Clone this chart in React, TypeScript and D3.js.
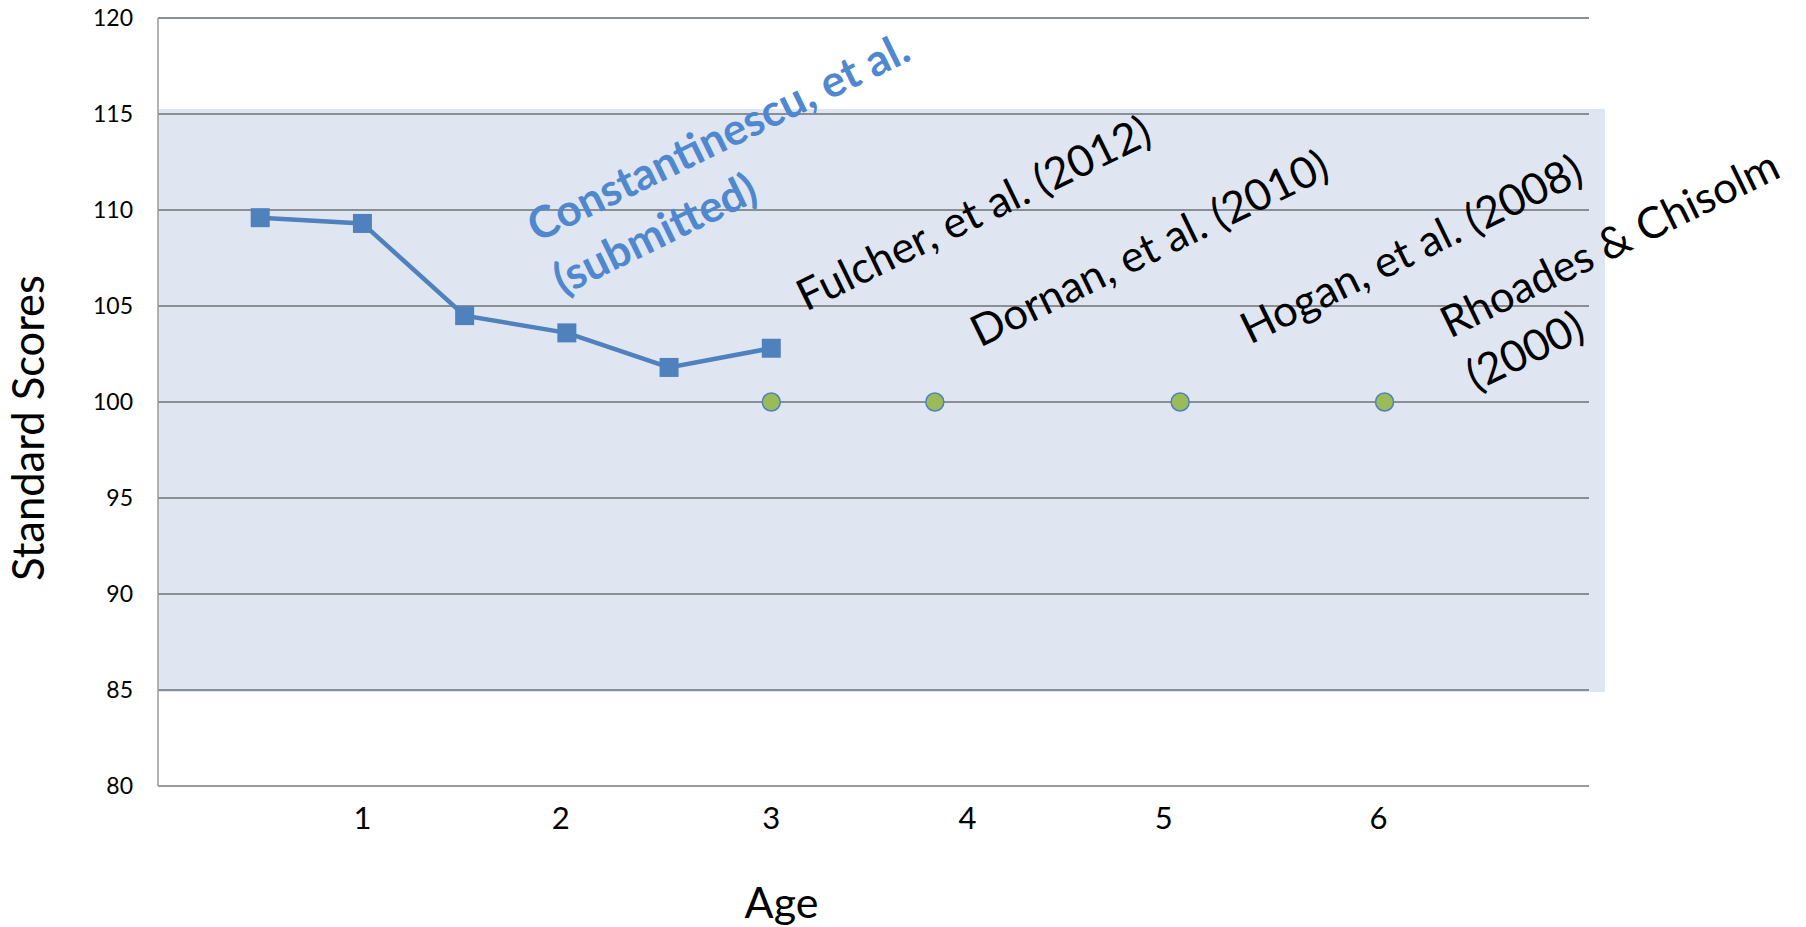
import React from "react";
import { useEffect, useRef } from "react";
import * as d3 from "d3";

// Constantinescu series (age in years, standard score)
const ages = [0.5, 1, 1.5, 2, 2.5, 3];
const scores = [109.6, 109.3, 104.5, 103.6, 101.8, 102.8];

// other studies, normal-hearing reference points
const normAges = [3, 3.8, 5, 6];
const normScores = [100, 100, 100, 100];

const studyNames = [
  ["Constantinescu, et al.", "(submitted)"],
  ["Fulcher, et al. (2012)"],
  ["Dornan, et al. (2010)"],
  ["Hogan, et al. (2008)"],
  ["Rhoades & Chisolm", "(2000)"],
];

const yTicks = [80, 85, 90, 95, 100, 105, 110, 115, 120];
const xTickLabels = ["1", "2", "3", "4", "5", "6"];
const xTickAt = [1, 1.97, 3, 3.96, 4.92, 5.97];
const normBand = [85, 115];

const W = 1806;
const H = 927;

const App = () => {
  const ref = useRef<SVGSVGElement>(null);

  useEffect(() => {
    drawChart();
  }, []);

  function drawChart() {
    const svg = d3.select(ref.current);
    svg.selectAll("*").remove();

    const margin = { top: 18, right: 217, bottom: 141, left: 158 };
    const font = "Lato, 'Open Sans', sans-serif";

    const xScale = d3.scaleLinear().domain([0, 7]).range([margin.left, W - margin.right]);
    const yScale = d3.scaleLinear().domain([80, 120]).range([H - margin.bottom, margin.top]);

    // shaded +-1 SD band
    svg
      .append("rect")
      .attr("x", xScale(0))
      .attr("y", yScale(normBand[1]) - 5)
      .attr("width", xScale(7) - xScale(0) + 16)
      .attr("height", yScale(normBand[0]) - yScale(normBand[1]) + 7)
      .attr("fill", "#dfe6f1");

    // gridlines
    svg
      .append("g")
      .selectAll("line")
      .data(yTicks.slice(1))
      .join("line")
      .attr("x1", xScale(0))
      .attr("x2", xScale(7))
      .attr("y1", (d) => yScale(d))
      .attr("y2", (d) => yScale(d))
      .attr("stroke", "#8a8e95")
      .attr("stroke-width", 2);

    // axes lines
    svg
      .append("line")
      .attr("x1", xScale(0))
      .attr("x2", xScale(0))
      .attr("y1", yScale(120))
      .attr("y2", yScale(80))
      .attr("stroke", "#9a9a9a")
      .attr("stroke-width", 1.5);
    svg
      .append("line")
      .attr("x1", xScale(0))
      .attr("x2", xScale(7))
      .attr("y1", yScale(80))
      .attr("y2", yScale(80))
      .attr("stroke", "#9a9a9a")
      .attr("stroke-width", 2);

    // y tick labels
    svg
      .append("g")
      .selectAll("text")
      .data(yTicks)
      .join("text")
      .attr("x", xScale(0) - 25)
      .attr("y", (d) => yScale(d))
      .attr("dy", "0.36em")
      .attr("text-anchor", "end")
      .attr("font-family", font)
      .attr("font-size", 23)
      .attr("fill", "#000")
      .text((d) => d);

    // x tick labels
    svg
      .append("g")
      .selectAll("text")
      .data(xTickLabels)
      .join("text")
      .attr("x", (d, i) => xScale(xTickAt[i]))
      .attr("y", yScale(80) + 32)
      .attr("dy", "0.36em")
      .attr("text-anchor", "middle")
      .attr("font-family", font)
      .attr("font-size", 31)
      .attr("fill", "#000")
      .text((d) => d);

    // axis titles
    svg
      .append("text")
      .attr("x", xScale(3.05))
      .attr("y", 918)
      .attr("text-anchor", "middle")
      .attr("font-family", font)
      .attr("font-size", 43)
      .attr("fill", "#000")
      .text("Age");
    svg
      .append("text")
      .attr("transform", `translate(44,${(yScale(80) + yScale(120)) / 2 + 26}) rotate(-90)`)
      .attr("text-anchor", "middle")
      .attr("font-family", font)
      .attr("font-size", 43.5)
      .attr("fill", "#000")
      .text("Standard Scores");

    // Constantinescu line + square markers
    const pts = ages.map((a, i) => [a, scores[i]]);
    const line = d3
      .line()
      .x((d: any) => xScale(d[0]))
      .y((d: any) => yScale(d[1]));
    svg
      .append("path")
      .datum(pts)
      .attr("fill", "none")
      .attr("stroke", "#4f81bd")
      .attr("stroke-width", 4.5)
      .attr("d", line as any);
    const sq = 19;
    svg
      .append("g")
      .selectAll("rect")
      .data(pts)
      .join("rect")
      .attr("x", (d) => xScale(d[0]) - sq / 2)
      .attr("y", (d) => yScale(d[1]) - sq / 2)
      .attr("width", sq)
      .attr("height", sq)
      .attr("fill", "#4f81bd");

    // other studies
    svg
      .append("g")
      .selectAll("circle")
      .data(normAges)
      .join("circle")
      .attr("cx", (d) => xScale(d))
      .attr("cy", (d, i) => yScale(normScores[i]))
      .attr("r", 9)
      .attr("fill", "#9bbb59")
      .attr("stroke", "#4f81bd")
      .attr("stroke-width", 1.5);

    // study labels, anchored in data space
    const labelAt = [
      [1.854, 108.3],
      [3.17, 104.7],
      [4.021, 102.83],
      [5.342, 102.98],
      [6.32, 103.3],
    ];
    studyNames.forEach((lines, i) => {
      const t = svg
        .append("text")
        .attr("transform", `translate(${xScale(labelAt[i][0])},${yScale(labelAt[i][1])}) rotate(-26)`)
        .attr("font-family", font)
        .attr("font-size", i === 0 ? 44 : 43.5)
        .attr("font-weight", i === 0 ? 700 : 400)
        .attr("fill", i === 0 ? "#4f88cf" : "#000");
      lines.forEach((s, j) => {
        t.append("tspan").attr("x", 0).attr("y", j * 59).text(s);
      });
    });
  }

  return (
    <svg
      ref={ref}
      width={W}
      height={H}
      style={{ position: "absolute", left: 0, top: 0, background: "#fff" }}
    />
  );
};

export default App;
